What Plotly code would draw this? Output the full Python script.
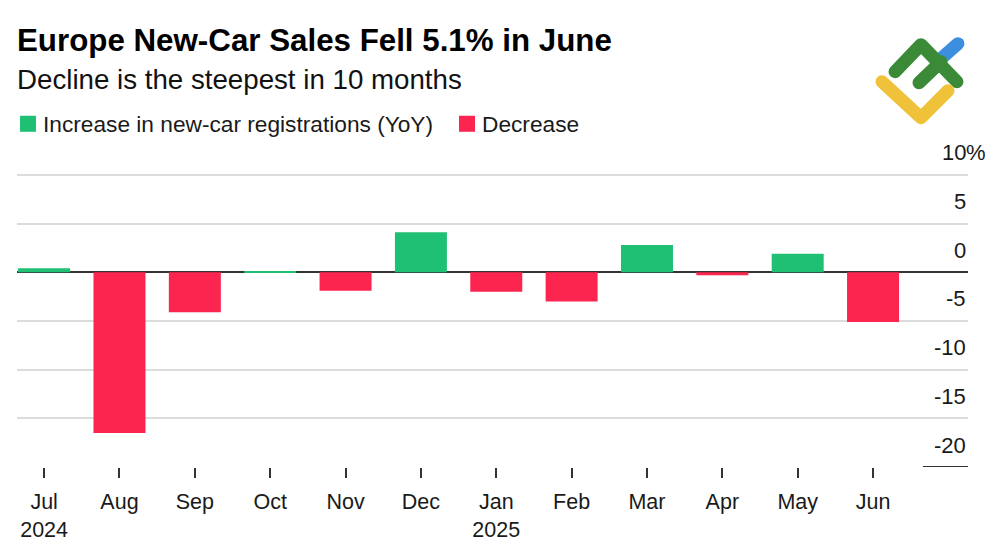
import base64
import plotly.graph_objects as go

# ---- data ----
MONTHS = ["Jul", "Aug", "Sep", "Oct", "Nov", "Dec", "Jan", "Feb", "Mar", "Apr", "May", "Jun"]
YEARS = ["2024", "", "", "", "", "", "2025", "", "", "", "", ""]
YOY = [0.4, -16.5, -4.1, 0.1, -1.9, 4.1, -2.0, -3.0, 2.8, -0.3, 1.9, -5.1]
Y_TICKS = [-20, -15, -10, -5, 0, 5, 10]
Y_UNIT = "%"
SERIES_NAMES = ["Increase in new-car registrations (YoY)", "Decrease"]
TITLE = "Europe New-Car Sales Fell 5.1% in June"
SUBTITLE = "Decline is the steepest in 10 months"

GREEN = "#1fbf74"
RED = "#fc2550"
FONT = "Liberation Sans"

W, H = 1000, 545
Y_TOP = 10.6
PX_PER_UNIT = (466.7 - 175) / 30.0
L, R, B = 17, 968, 466.7
T = 175 - (Y_TOP - 10) * PX_PER_UNIT


def px(xp):
    return (xp - L) / (R - L)


def py(yp):
    return (B - yp) / (B - T)


x_idx = list(range(len(MONTHS)))
tick_text = [m if not y else f"{m}<br>{y}" for m, y in zip(MONTHS, YEARS)]
inc = [v if v >= 0 else None for v in YOY]
dec = [v if v < 0 else None for v in YOY]

fig = go.Figure()
fig.add_trace(go.Bar(x=x_idx, y=inc, name=SERIES_NAMES[0], marker_color=GREEN,
                     marker_line_width=0, width=0.69, showlegend=False))
fig.add_trace(go.Bar(x=x_idx, y=dec, name=SERIES_NAMES[1], marker_color=RED,
                     marker_line_width=0, width=0.69, showlegend=False))

annotations = []
# y tick labels above gridlines
for v in Y_TICKS:
    annotations.append(dict(x=1, xref="paper", y=v, yref="y", text=str(v), showarrow=False,
                            xanchor="right", yanchor="middle", yshift=22,
                            font=dict(family=FONT, size=22, color="#1a1a1a")))
annotations.append(dict(x=1, xref="paper", y=Y_TICKS[-1], yref="y", text=Y_UNIT, showarrow=False,
                        xanchor="left", yanchor="middle", yshift=22, xshift=-4,
                        font=dict(family=FONT, size=22, color="#1a1a1a")))
# subtitle
annotations.append(dict(x=px(15), xref="paper", y=py(80), yref="paper", text=SUBTITLE,
                        showarrow=False, xanchor="left", yanchor="middle",
                        font=dict(family=FONT, size=27.7, color="#111")))
# legend (manual)
leg_x = [20, 459]
shapes = []
for name, col, lx in zip(SERIES_NAMES, [GREEN, RED], leg_x):
    shapes.append(dict(type="rect", xref="paper", yref="paper", x0=px(lx), x1=px(lx + 16),
                       y0=py(132), y1=py(116), fillcolor=col, line_width=0))
    annotations.append(dict(x=px(lx + 21), xref="paper", y=py(124), yref="paper", text=name,
                            showarrow=False, xanchor="left", yanchor="middle",
                            font=dict(family=FONT, size=22.7, color="#1a1a1a")))
# short baseline segment under the lowest label
shapes.append(dict(type="line", xref="paper", yref="y", x0=px(923), x1=1,
                   y0=Y_TICKS[0], y1=Y_TICKS[0], line=dict(color="#333", width=2)))

# logo as inline SVG
svg = (
    '<svg xmlns="http://www.w3.org/2000/svg" width="120" height="110" viewBox="0 0 120 110">'
    '<g fill="none" stroke-linecap="round" stroke-linejoin="round" stroke-width="13">'
    '<line x1="81" y1="29" x2="98" y2="14" stroke="#3b8fde"/>'
    '<polyline points="35,42 61,15 97,52" stroke="#3a8a38"/>'
    '<line x1="59" y1="53" x2="81" y2="32" stroke="#3a8a38"/>'
    '<polyline points="22,52 61,88 88,61" stroke="#f0c23a"/>'
    '</g></svg>'
)
src = "data:image/svg+xml;base64," + base64.b64encode(svg.encode()).decode()

fig.update_layout(
    width=W, height=H,
    margin=dict(l=L, r=W - R, t=T, b=H - B, pad=0, autoexpand=False),
    paper_bgcolor="white", plot_bgcolor="white",
    barmode="overlay",
    showlegend=False,
    title=dict(text=f"<b>{TITLE}</b>", xref="container", yref="container",
               x=17 / W, y=1 - 40 / H, xanchor="left", yanchor="middle",
               font=dict(family=FONT, size=31.3, color="#000")),
    xaxis=dict(range=[-0.36, 12.26], tickvals=x_idx, ticktext=tick_text,
               showgrid=False, zeroline=False, showline=False, automargin=False,
               ticks="outside", ticklen=10, tickwidth=1.5, tickcolor="#333",
               ticklabelstandoff=5,
               tickfont=dict(family=FONT, size=21.5, color="#1a1a1a")),
    yaxis=dict(range=[Y_TICKS[0], Y_TOP], tickvals=Y_TICKS[1:], showticklabels=False,
               showgrid=True, gridcolor="#dcdcdc", gridwidth=1.5, automargin=False,
               zeroline=True, zerolinecolor="#333", zerolinewidth=2, showline=False),
    annotations=annotations,
    shapes=shapes,
    images=[dict(source=src, xref="paper", yref="paper", x=px(860), y=py(30),
                 sizex=120 / (R - L), sizey=110 / (B - T), xanchor="left", yanchor="top",
                 sizing="stretch", layer="above")],
)

fig.write_html("out.html", config={"displayModeBar": False},
               post_script="document.body.style.margin='0px';")
